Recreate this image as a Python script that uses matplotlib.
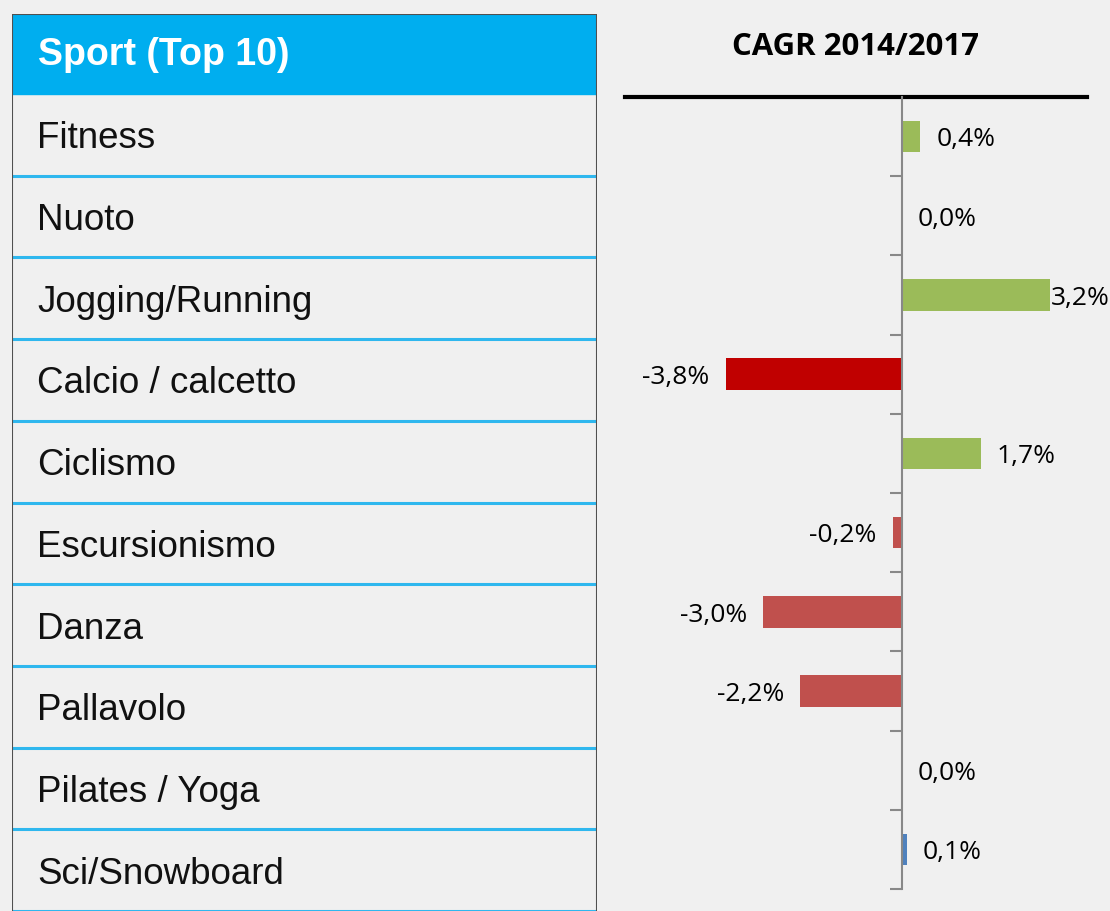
import numpy as np
import matplotlib.pyplot as plt

# data
sports = ['Fitness', 'Nuoto', 'Jogging/Running', 'Calcio / calcetto', 'Ciclismo',
          'Escursionismo', 'Danza', 'Pallavolo', 'Pilates / Yoga', 'Sci/Snowboard']
cagr = [0.4, 0.0, 3.2, -3.8, 1.7, -0.2, -3.0, -2.2, 0.0, 0.1]
bar_colors = ['#9BBB59', '#9BBB59', '#9BBB59', '#C00000', '#9BBB59',
              '#C0504D', '#C0504D', '#C0504D', '#9BBB59', '#4F81BD']
header = 'Sport (Top 10)'
title = 'CAGR 2014/2017'

W, H = 1110, 911
bg = '#F0F0F0'
fig = plt.figure(figsize=(W / 100, H / 100), dpi=100, facecolor=bg)

# ---- left table ----
n = len(sports)
head_h = 0.98
tax = fig.add_axes([12 / W, 0, (597 - 12) / W, (H - 14) / H])
tax.set_xlim(0, 1)
tax.set_ylim(n, -head_h)
tax.axis('off')
tax.add_patch(plt.Rectangle((0, -head_h), 1, head_h, color='#00AEEF', zorder=1))
tax.text(0.044, -head_h + 0.64 * head_h, header, color='white', fontsize=27,
         fontweight='bold', family='Liberation Sans', va='baseline', ha='left')
for i, name in enumerate(sports):
    tax.text(0.043, i + 0.665, name, fontsize=26.5, family='Liberation Sans',
             va='baseline', ha='left', color='#111111')
    tax.axhline(i + 1, color='#2FB7EE', lw=2.2, zorder=2)
tax.axvline(0, color='#505050', lw=1.5, zorder=3)
tax.axvline(1, color='#505050', lw=1.5, zorder=3)
tax.axhline(-head_h, color='#505050', lw=1.5, zorder=3)

# ---- bar chart ----
ax = fig.add_axes([625 / W, (H - 889) / H, (1087 - 625) / W, (889 - 97) / H])
ax.set_facecolor('none')
y = np.arange(n)
ax.barh(y, cagr, height=0.4, color=bar_colors, zorder=2)
xmin, xmax = -5.97, 3.99
ax.set_xlim(xmin, xmax)
ax.set_ylim(n - 0.5, -0.5)
ax.set_xticks([])
ax.set_yticks(np.arange(-0.5, n, 1))
ax.set_yticklabels([])
ax.tick_params(axis='y', direction='out', length=9, width=1.5, color='#888888')
for s in ['right', 'bottom']:
    ax.spines[s].set_visible(False)
ax.spines['left'].set_position(('data', 0))
ax.spines['left'].set_color('#888888')
ax.spines['left'].set_linewidth(1.5)
ax.spines['left'].set_zorder(3)
ax.spines['top'].set_color('black')
ax.spines['top'].set_linewidth(3)

lab_w = 1.25  # approx label width in data units
gap = 11.5
for yi, v in zip(y, cagr):
    txt = f'{v:.1f}%'.replace('.', ',')
    if v >= 0:
        off = gap if v + 0.34 + lab_w < xmax else 0
        ax.annotate(txt, (v, yi), xytext=(off, -7), textcoords='offset points',
                    ha='left', va='baseline', fontsize=19, family='Open Sans')
    else:
        ax.annotate(txt, (v, yi), xytext=(-gap, -7), textcoords='offset points',
                    ha='right', va='baseline', fontsize=19, family='Open Sans')

fig.text(855.5 / W, 1 - 55 / H, title, ha='center', va='baseline', fontsize=22.4,
         fontweight='bold', family='Open Sans')

fig.savefig('out.png', dpi=100, facecolor=bg)
